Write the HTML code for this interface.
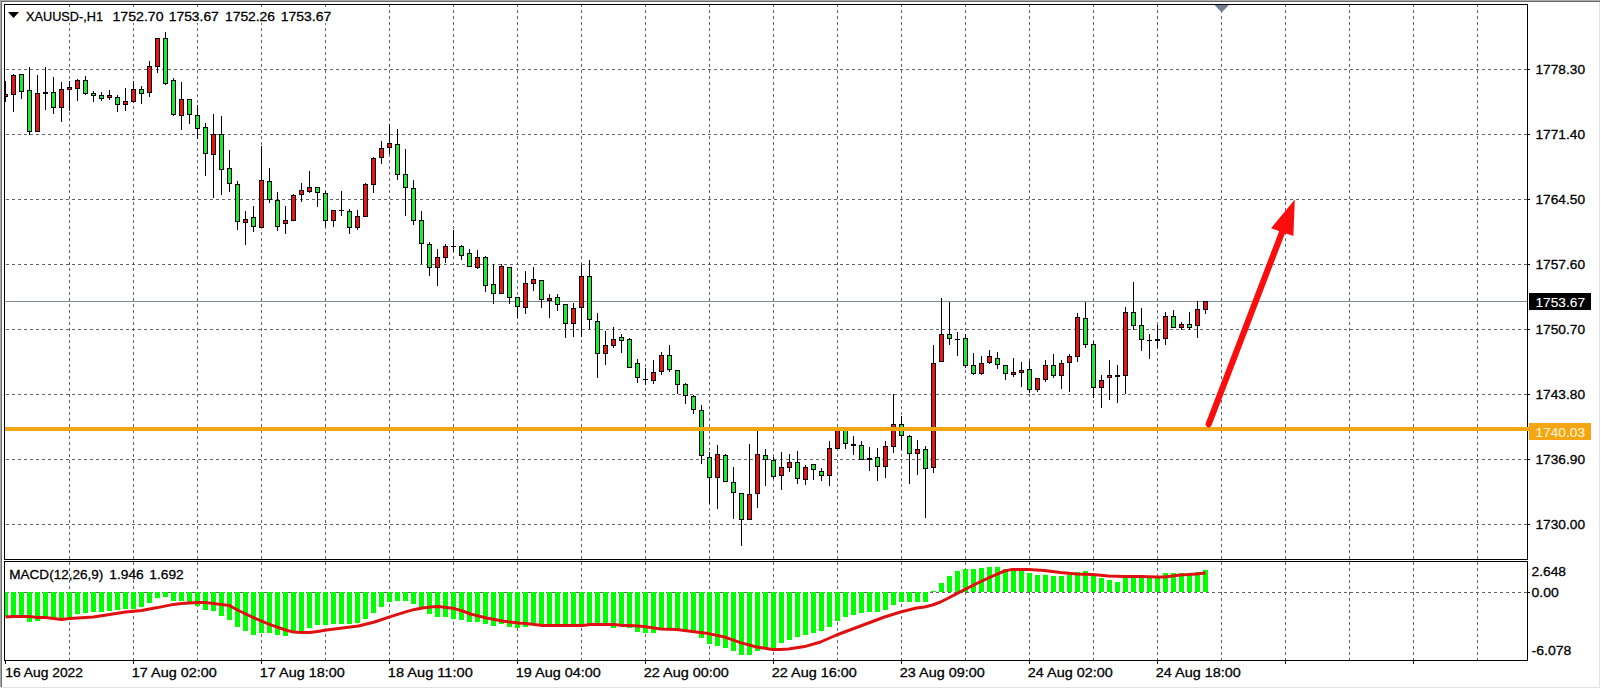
<!DOCTYPE html><html><head><meta charset="utf-8"><title>XAUUSD H1</title>
<style>html,body{margin:0;padding:0;background:#fff;overflow:hidden}svg{display:block}text{font-family:"Liberation Sans","DejaVu Sans",sans-serif;font-size:13.6px;fill:#000;stroke:#000;stroke-width:0.3px}</style></head><body>
<svg width="1601" height="689" viewBox="0 0 1601 689">
<rect x="0" y="0" width="1601" height="689" fill="#fff"/>
<g shape-rendering="crispEdges">
<rect x="0" y="0" width="1600" height="1" fill="#ababab"/><rect x="0" y="1" width="1600" height="1" fill="#6c6c6c"/>
<rect x="0" y="0" width="1" height="687" fill="#a8a8a8"/><rect x="1" y="1" width="1" height="686" fill="#6c6c6c"/>
<rect x="0" y="687" width="1600" height="1" fill="#e3e3e3"/><rect x="1599" y="2" width="1" height="686" fill="#e3e3e3"/>
<line x1="69.5" y1="4" x2="69.5" y2="559" stroke="#646464" stroke-width="1" stroke-dasharray="3 3"/>
<line x1="69.5" y1="562" x2="69.5" y2="660" stroke="#646464" stroke-width="1" stroke-dasharray="3 3"/>
<line x1="133.5" y1="4" x2="133.5" y2="559" stroke="#646464" stroke-width="1" stroke-dasharray="3 3"/>
<line x1="133.5" y1="562" x2="133.5" y2="660" stroke="#646464" stroke-width="1" stroke-dasharray="3 3"/>
<line x1="197.5" y1="4" x2="197.5" y2="559" stroke="#646464" stroke-width="1" stroke-dasharray="3 3"/>
<line x1="197.5" y1="562" x2="197.5" y2="660" stroke="#646464" stroke-width="1" stroke-dasharray="3 3"/>
<line x1="261.5" y1="4" x2="261.5" y2="559" stroke="#646464" stroke-width="1" stroke-dasharray="3 3"/>
<line x1="261.5" y1="562" x2="261.5" y2="660" stroke="#646464" stroke-width="1" stroke-dasharray="3 3"/>
<line x1="325.5" y1="4" x2="325.5" y2="559" stroke="#646464" stroke-width="1" stroke-dasharray="3 3"/>
<line x1="325.5" y1="562" x2="325.5" y2="660" stroke="#646464" stroke-width="1" stroke-dasharray="3 3"/>
<line x1="389.5" y1="4" x2="389.5" y2="559" stroke="#646464" stroke-width="1" stroke-dasharray="3 3"/>
<line x1="389.5" y1="562" x2="389.5" y2="660" stroke="#646464" stroke-width="1" stroke-dasharray="3 3"/>
<line x1="453.5" y1="4" x2="453.5" y2="559" stroke="#646464" stroke-width="1" stroke-dasharray="3 3"/>
<line x1="453.5" y1="562" x2="453.5" y2="660" stroke="#646464" stroke-width="1" stroke-dasharray="3 3"/>
<line x1="517.5" y1="4" x2="517.5" y2="559" stroke="#646464" stroke-width="1" stroke-dasharray="3 3"/>
<line x1="517.5" y1="562" x2="517.5" y2="660" stroke="#646464" stroke-width="1" stroke-dasharray="3 3"/>
<line x1="581.5" y1="4" x2="581.5" y2="559" stroke="#646464" stroke-width="1" stroke-dasharray="3 3"/>
<line x1="581.5" y1="562" x2="581.5" y2="660" stroke="#646464" stroke-width="1" stroke-dasharray="3 3"/>
<line x1="645.5" y1="4" x2="645.5" y2="559" stroke="#646464" stroke-width="1" stroke-dasharray="3 3"/>
<line x1="645.5" y1="562" x2="645.5" y2="660" stroke="#646464" stroke-width="1" stroke-dasharray="3 3"/>
<line x1="709.5" y1="4" x2="709.5" y2="559" stroke="#646464" stroke-width="1" stroke-dasharray="3 3"/>
<line x1="709.5" y1="562" x2="709.5" y2="660" stroke="#646464" stroke-width="1" stroke-dasharray="3 3"/>
<line x1="773.5" y1="4" x2="773.5" y2="559" stroke="#646464" stroke-width="1" stroke-dasharray="3 3"/>
<line x1="773.5" y1="562" x2="773.5" y2="660" stroke="#646464" stroke-width="1" stroke-dasharray="3 3"/>
<line x1="837.5" y1="4" x2="837.5" y2="559" stroke="#646464" stroke-width="1" stroke-dasharray="3 3"/>
<line x1="837.5" y1="562" x2="837.5" y2="660" stroke="#646464" stroke-width="1" stroke-dasharray="3 3"/>
<line x1="901.5" y1="4" x2="901.5" y2="559" stroke="#646464" stroke-width="1" stroke-dasharray="3 3"/>
<line x1="901.5" y1="562" x2="901.5" y2="660" stroke="#646464" stroke-width="1" stroke-dasharray="3 3"/>
<line x1="965.5" y1="4" x2="965.5" y2="559" stroke="#646464" stroke-width="1" stroke-dasharray="3 3"/>
<line x1="965.5" y1="562" x2="965.5" y2="660" stroke="#646464" stroke-width="1" stroke-dasharray="3 3"/>
<line x1="1029.5" y1="4" x2="1029.5" y2="559" stroke="#646464" stroke-width="1" stroke-dasharray="3 3"/>
<line x1="1029.5" y1="562" x2="1029.5" y2="660" stroke="#646464" stroke-width="1" stroke-dasharray="3 3"/>
<line x1="1093.5" y1="4" x2="1093.5" y2="559" stroke="#646464" stroke-width="1" stroke-dasharray="3 3"/>
<line x1="1093.5" y1="562" x2="1093.5" y2="660" stroke="#646464" stroke-width="1" stroke-dasharray="3 3"/>
<line x1="1157.5" y1="4" x2="1157.5" y2="559" stroke="#646464" stroke-width="1" stroke-dasharray="3 3"/>
<line x1="1157.5" y1="562" x2="1157.5" y2="660" stroke="#646464" stroke-width="1" stroke-dasharray="3 3"/>
<line x1="1221.5" y1="4" x2="1221.5" y2="559" stroke="#646464" stroke-width="1" stroke-dasharray="3 3"/>
<line x1="1221.5" y1="562" x2="1221.5" y2="660" stroke="#646464" stroke-width="1" stroke-dasharray="3 3"/>
<line x1="1285.5" y1="4" x2="1285.5" y2="559" stroke="#646464" stroke-width="1" stroke-dasharray="3 3"/>
<line x1="1285.5" y1="562" x2="1285.5" y2="660" stroke="#646464" stroke-width="1" stroke-dasharray="3 3"/>
<line x1="1349.5" y1="4" x2="1349.5" y2="559" stroke="#646464" stroke-width="1" stroke-dasharray="3 3"/>
<line x1="1349.5" y1="562" x2="1349.5" y2="660" stroke="#646464" stroke-width="1" stroke-dasharray="3 3"/>
<line x1="1413.5" y1="4" x2="1413.5" y2="559" stroke="#646464" stroke-width="1" stroke-dasharray="3 3"/>
<line x1="1413.5" y1="562" x2="1413.5" y2="660" stroke="#646464" stroke-width="1" stroke-dasharray="3 3"/>
<line x1="1477.5" y1="4" x2="1477.5" y2="559" stroke="#646464" stroke-width="1" stroke-dasharray="3 3"/>
<line x1="1477.5" y1="562" x2="1477.5" y2="660" stroke="#646464" stroke-width="1" stroke-dasharray="3 3"/>
<line x1="6" y1="69.5" x2="1527" y2="69.5" stroke="#646464" stroke-width="1" stroke-dasharray="3 3"/>
<line x1="6" y1="134.5" x2="1527" y2="134.5" stroke="#646464" stroke-width="1" stroke-dasharray="3 3"/>
<line x1="6" y1="199.5" x2="1527" y2="199.5" stroke="#646464" stroke-width="1" stroke-dasharray="3 3"/>
<line x1="6" y1="264.5" x2="1527" y2="264.5" stroke="#646464" stroke-width="1" stroke-dasharray="3 3"/>
<line x1="6" y1="329.5" x2="1527" y2="329.5" stroke="#646464" stroke-width="1" stroke-dasharray="3 3"/>
<line x1="6" y1="394.5" x2="1527" y2="394.5" stroke="#646464" stroke-width="1" stroke-dasharray="3 3"/>
<line x1="6" y1="459.5" x2="1527" y2="459.5" stroke="#646464" stroke-width="1" stroke-dasharray="3 3"/>
<line x1="6" y1="524.5" x2="1527" y2="524.5" stroke="#646464" stroke-width="1" stroke-dasharray="3 3"/>
<line x1="6" y1="592.5" x2="1527" y2="592.5" stroke="#646464" stroke-width="1" stroke-dasharray="3 3"/>
<rect x="5" y="301" width="1522" height="1" fill="#808a94"/>
</g>
<g shape-rendering="crispEdges" fill="#00ff00">
<rect x="5" y="592" width="3" height="24"/>
<rect x="11" y="592" width="5" height="24"/>
<rect x="19" y="592" width="5" height="25"/>
<rect x="27" y="592" width="5" height="30"/>
<rect x="35" y="592" width="5" height="29"/>
<rect x="43" y="592" width="5" height="27"/>
<rect x="51" y="592" width="5" height="26"/>
<rect x="59" y="592" width="5" height="28"/>
<rect x="67" y="592" width="5" height="25"/>
<rect x="75" y="592" width="5" height="22"/>
<rect x="83" y="592" width="5" height="21"/>
<rect x="91" y="592" width="5" height="20"/>
<rect x="99" y="592" width="5" height="20"/>
<rect x="107" y="592" width="5" height="19"/>
<rect x="115" y="592" width="5" height="18"/>
<rect x="123" y="592" width="5" height="17"/>
<rect x="131" y="592" width="5" height="17"/>
<rect x="139" y="592" width="5" height="15"/>
<rect x="147" y="592" width="5" height="11"/>
<rect x="155" y="592" width="5" height="6"/>
<rect x="163" y="592" width="5" height="5"/>
<rect x="171" y="592" width="5" height="9"/>
<rect x="179" y="592" width="5" height="9"/>
<rect x="187" y="592" width="5" height="10"/>
<rect x="195" y="592" width="5" height="14"/>
<rect x="203" y="592" width="5" height="18"/>
<rect x="211" y="592" width="5" height="19"/>
<rect x="219" y="592" width="5" height="24"/>
<rect x="227" y="592" width="5" height="28"/>
<rect x="235" y="592" width="5" height="35"/>
<rect x="243" y="592" width="5" height="39"/>
<rect x="251" y="592" width="5" height="43"/>
<rect x="259" y="592" width="5" height="41"/>
<rect x="267" y="592" width="5" height="41"/>
<rect x="275" y="592" width="5" height="43"/>
<rect x="283" y="592" width="5" height="44"/>
<rect x="291" y="592" width="5" height="40"/>
<rect x="299" y="592" width="5" height="41"/>
<rect x="307" y="592" width="5" height="36"/>
<rect x="315" y="592" width="5" height="33"/>
<rect x="323" y="592" width="5" height="33"/>
<rect x="331" y="592" width="5" height="32"/>
<rect x="339" y="592" width="5" height="32"/>
<rect x="347" y="592" width="5" height="32"/>
<rect x="355" y="592" width="5" height="31"/>
<rect x="363" y="592" width="5" height="27"/>
<rect x="371" y="592" width="5" height="21"/>
<rect x="379" y="592" width="5" height="15"/>
<rect x="387" y="592" width="5" height="10"/>
<rect x="395" y="592" width="5" height="9"/>
<rect x="403" y="592" width="5" height="9"/>
<rect x="411" y="592" width="5" height="12"/>
<rect x="419" y="592" width="5" height="15"/>
<rect x="427" y="592" width="5" height="22"/>
<rect x="435" y="592" width="5" height="25"/>
<rect x="443" y="592" width="5" height="25"/>
<rect x="451" y="592" width="5" height="27"/>
<rect x="459" y="592" width="5" height="28"/>
<rect x="467" y="592" width="5" height="30"/>
<rect x="475" y="592" width="5" height="30"/>
<rect x="483" y="592" width="5" height="32"/>
<rect x="491" y="592" width="5" height="34"/>
<rect x="499" y="592" width="5" height="32"/>
<rect x="507" y="592" width="5" height="35"/>
<rect x="515" y="592" width="5" height="36"/>
<rect x="523" y="592" width="5" height="35"/>
<rect x="531" y="592" width="5" height="33"/>
<rect x="539" y="592" width="5" height="34"/>
<rect x="547" y="592" width="5" height="34"/>
<rect x="555" y="592" width="5" height="34"/>
<rect x="563" y="592" width="5" height="34"/>
<rect x="571" y="592" width="5" height="34"/>
<rect x="579" y="592" width="5" height="34"/>
<rect x="587" y="592" width="5" height="34"/>
<rect x="595" y="592" width="5" height="34"/>
<rect x="603" y="592" width="5" height="34"/>
<rect x="611" y="592" width="5" height="36"/>
<rect x="619" y="592" width="5" height="34"/>
<rect x="627" y="592" width="5" height="36"/>
<rect x="635" y="592" width="5" height="40"/>
<rect x="643" y="592" width="5" height="41"/>
<rect x="651" y="592" width="5" height="41"/>
<rect x="659" y="592" width="5" height="38"/>
<rect x="667" y="592" width="5" height="37"/>
<rect x="675" y="592" width="5" height="38"/>
<rect x="683" y="592" width="5" height="39"/>
<rect x="691" y="592" width="5" height="41"/>
<rect x="699" y="592" width="5" height="46"/>
<rect x="707" y="592" width="5" height="52"/>
<rect x="715" y="592" width="5" height="54"/>
<rect x="723" y="592" width="5" height="56"/>
<rect x="731" y="592" width="5" height="59"/>
<rect x="739" y="592" width="5" height="63"/>
<rect x="747" y="592" width="5" height="63"/>
<rect x="755" y="592" width="5" height="59"/>
<rect x="763" y="592" width="5" height="57"/>
<rect x="771" y="592" width="5" height="56"/>
<rect x="779" y="592" width="5" height="51"/>
<rect x="787" y="592" width="5" height="48"/>
<rect x="795" y="592" width="5" height="45"/>
<rect x="803" y="592" width="5" height="43"/>
<rect x="811" y="592" width="5" height="41"/>
<rect x="819" y="592" width="5" height="39"/>
<rect x="827" y="592" width="5" height="35"/>
<rect x="835" y="592" width="5" height="29"/>
<rect x="843" y="592" width="5" height="25"/>
<rect x="851" y="592" width="5" height="23"/>
<rect x="859" y="592" width="5" height="21"/>
<rect x="867" y="592" width="5" height="20"/>
<rect x="875" y="592" width="5" height="20"/>
<rect x="883" y="592" width="5" height="18"/>
<rect x="891" y="592" width="5" height="13"/>
<rect x="899" y="592" width="5" height="10"/>
<rect x="907" y="592" width="5" height="10"/>
<rect x="915" y="592" width="5" height="10"/>
<rect x="923" y="592" width="5" height="10"/>
<rect x="931" y="591" width="5" height="1"/>
<rect x="939" y="583" width="5" height="9"/>
<rect x="947" y="576" width="5" height="16"/>
<rect x="955" y="571" width="5" height="21"/>
<rect x="963" y="569" width="5" height="23"/>
<rect x="971" y="569" width="5" height="23"/>
<rect x="979" y="568" width="5" height="24"/>
<rect x="987" y="567" width="5" height="25"/>
<rect x="995" y="567" width="5" height="25"/>
<rect x="1003" y="569" width="5" height="23"/>
<rect x="1011" y="570" width="5" height="22"/>
<rect x="1019" y="570" width="5" height="22"/>
<rect x="1027" y="573" width="5" height="19"/>
<rect x="1035" y="575" width="5" height="17"/>
<rect x="1043" y="575" width="5" height="17"/>
<rect x="1051" y="576" width="5" height="16"/>
<rect x="1059" y="576" width="5" height="16"/>
<rect x="1067" y="575" width="5" height="17"/>
<rect x="1075" y="572" width="5" height="20"/>
<rect x="1083" y="571" width="5" height="21"/>
<rect x="1091" y="575" width="5" height="17"/>
<rect x="1099" y="578" width="5" height="14"/>
<rect x="1107" y="580" width="5" height="12"/>
<rect x="1115" y="582" width="5" height="10"/>
<rect x="1123" y="578" width="5" height="14"/>
<rect x="1131" y="577" width="5" height="15"/>
<rect x="1139" y="577" width="5" height="15"/>
<rect x="1147" y="578" width="5" height="14"/>
<rect x="1155" y="576" width="5" height="16"/>
<rect x="1163" y="573" width="5" height="19"/>
<rect x="1171" y="573" width="5" height="19"/>
<rect x="1179" y="573" width="5" height="19"/>
<rect x="1187" y="573" width="5" height="19"/>
<rect x="1195" y="572" width="5" height="20"/>
<rect x="1203" y="570" width="5" height="22"/>
</g>
<polyline points="5.5,617 13.5,616.4 29.5,616.4 37.5,617.4 45.5,617.6 53.5,618.6 61.5,619.6 69.5,618.6 77.5,618 93.5,617 109.5,614.4 125.5,612 141.5,610.4 157.5,607.6 173.5,604.4 181.5,603.4 197.5,602.6 205.5,602.6 213.5,603.4 229.5,605.6 237.5,610 253.5,617.6 269.5,624.4 285.5,630 293.5,632 301.5,632.6 309.5,632.5 317.5,631.4 326.5,630 342.5,628 358.5,626 374.5,622 390.5,616.6 406.5,611.6 414.5,609.4 422.5,608 430.5,607 438.5,606.4 446.5,607.4 454.5,608.6 462.5,611 470.5,614 486.5,618 502.5,621 518.5,623 526.5,623.4 534.5,624.6 542.5,625.6 582.5,625.6 590.5,624.6 614.5,624.6 622.5,625.6 630.5,625.6 644.5,626.6 660.5,629 676.5,629.4 692.5,631.6 708.5,633.6 724.5,637 740.5,642.6 756.5,647 772.5,649.4 780.5,649.4 788.5,649 804.5,646.6 820.5,642 836.5,635 852.5,629 868.5,623 884.5,617 900.5,612 916.5,608 924.5,607 932.5,605 940.5,602 948.5,598 964.5,589.6 980.5,581.6 996.5,574.4 1004.5,571 1012.5,569.4 1028.5,569.4 1044.5,570.4 1060.5,572.4 1076.5,574 1092.5,574.6 1108.5,576 1124.5,576.4 1140.5,576.4 1156.5,577 1164.5,577 1172.5,576 1180.5,575 1188.5,574.6 1196.5,574 1205.5,573" fill="none" stroke="#e01010" stroke-width="3" stroke-linejoin="round" stroke-linecap="butt"/>
<g shape-rendering="crispEdges">
<rect x="5" y="81" width="1" height="21" fill="#000"/>
<rect x="5" y="94" width="3" height="3" fill="#000"/>
<rect x="5" y="95" width="2" height="1" fill="#ea1414"/>
<rect x="13" y="74" width="1" height="38" fill="#000"/>
<rect x="11" y="75" width="5" height="20" fill="#000"/>
<rect x="12" y="76" width="3" height="18" fill="#ea1414"/>
<rect x="21" y="74" width="1" height="25" fill="#000"/>
<rect x="19" y="74" width="5" height="18" fill="#000"/>
<rect x="20" y="75" width="3" height="16" fill="#1eea32"/>
<rect x="29" y="67" width="1" height="68" fill="#000"/>
<rect x="27" y="90" width="5" height="42" fill="#000"/>
<rect x="28" y="91" width="3" height="40" fill="#1eea32"/>
<rect x="37" y="75" width="1" height="57" fill="#000"/>
<rect x="35" y="93" width="5" height="39" fill="#000"/>
<rect x="36" y="94" width="3" height="37" fill="#ea1414"/>
<rect x="45" y="67" width="1" height="43" fill="#000"/>
<rect x="43" y="92" width="5" height="2" fill="#000"/>
<rect x="53" y="77" width="1" height="37" fill="#000"/>
<rect x="51" y="92" width="5" height="16" fill="#000"/>
<rect x="52" y="93" width="3" height="14" fill="#1eea32"/>
<rect x="61" y="82" width="1" height="40" fill="#000"/>
<rect x="59" y="89" width="5" height="19" fill="#000"/>
<rect x="60" y="90" width="3" height="17" fill="#ea1414"/>
<rect x="69" y="81" width="1" height="30" fill="#000"/>
<rect x="67" y="87" width="5" height="3" fill="#000"/>
<rect x="68" y="88" width="3" height="1" fill="#ea1414"/>
<rect x="77" y="79" width="1" height="22" fill="#000"/>
<rect x="75" y="80" width="5" height="9" fill="#000"/>
<rect x="76" y="81" width="3" height="7" fill="#ea1414"/>
<rect x="85" y="76" width="1" height="19" fill="#000"/>
<rect x="83" y="80" width="5" height="14" fill="#000"/>
<rect x="84" y="81" width="3" height="12" fill="#1eea32"/>
<rect x="93" y="91" width="1" height="11" fill="#000"/>
<rect x="91" y="93" width="5" height="3" fill="#000"/>
<rect x="92" y="94" width="3" height="1" fill="#1eea32"/>
<rect x="101" y="92" width="1" height="9" fill="#000"/>
<rect x="99" y="95" width="5" height="4" fill="#000"/>
<rect x="100" y="96" width="3" height="2" fill="#1eea32"/>
<rect x="109" y="90" width="1" height="10" fill="#000"/>
<rect x="107" y="95" width="5" height="3" fill="#000"/>
<rect x="108" y="96" width="3" height="1" fill="#ea1414"/>
<rect x="117" y="95" width="1" height="17" fill="#000"/>
<rect x="115" y="97" width="5" height="8" fill="#000"/>
<rect x="116" y="98" width="3" height="6" fill="#1eea32"/>
<rect x="125" y="88" width="1" height="23" fill="#000"/>
<rect x="123" y="101" width="5" height="4" fill="#000"/>
<rect x="124" y="102" width="3" height="2" fill="#ea1414"/>
<rect x="133" y="81" width="1" height="22" fill="#000"/>
<rect x="131" y="89" width="5" height="13" fill="#000"/>
<rect x="132" y="90" width="3" height="11" fill="#ea1414"/>
<rect x="141" y="86" width="1" height="18" fill="#000"/>
<rect x="139" y="89" width="5" height="5" fill="#000"/>
<rect x="140" y="90" width="3" height="3" fill="#1eea32"/>
<rect x="149" y="61" width="1" height="36" fill="#000"/>
<rect x="147" y="66" width="5" height="27" fill="#000"/>
<rect x="148" y="67" width="3" height="25" fill="#ea1414"/>
<rect x="157" y="38" width="1" height="35" fill="#000"/>
<rect x="155" y="38" width="5" height="29" fill="#000"/>
<rect x="156" y="39" width="3" height="27" fill="#ea1414"/>
<rect x="165" y="32" width="1" height="53" fill="#000"/>
<rect x="163" y="38" width="5" height="46" fill="#000"/>
<rect x="164" y="39" width="3" height="44" fill="#1eea32"/>
<rect x="173" y="78" width="1" height="38" fill="#000"/>
<rect x="171" y="80" width="5" height="35" fill="#000"/>
<rect x="172" y="81" width="3" height="33" fill="#1eea32"/>
<rect x="181" y="82" width="1" height="48" fill="#000"/>
<rect x="179" y="99" width="5" height="17" fill="#000"/>
<rect x="180" y="100" width="3" height="15" fill="#ea1414"/>
<rect x="189" y="99" width="1" height="25" fill="#000"/>
<rect x="187" y="99" width="5" height="16" fill="#000"/>
<rect x="188" y="100" width="3" height="14" fill="#1eea32"/>
<rect x="197" y="105" width="1" height="34" fill="#000"/>
<rect x="195" y="115" width="5" height="14" fill="#000"/>
<rect x="196" y="116" width="3" height="12" fill="#1eea32"/>
<rect x="205" y="123" width="1" height="53" fill="#000"/>
<rect x="203" y="127" width="5" height="27" fill="#000"/>
<rect x="204" y="128" width="3" height="25" fill="#1eea32"/>
<rect x="213" y="114" width="1" height="84" fill="#000"/>
<rect x="211" y="134" width="5" height="21" fill="#000"/>
<rect x="212" y="135" width="3" height="19" fill="#ea1414"/>
<rect x="221" y="116" width="1" height="79" fill="#000"/>
<rect x="219" y="134" width="5" height="36" fill="#000"/>
<rect x="220" y="135" width="3" height="34" fill="#1eea32"/>
<rect x="229" y="150" width="1" height="42" fill="#000"/>
<rect x="227" y="168" width="5" height="16" fill="#000"/>
<rect x="228" y="169" width="3" height="14" fill="#1eea32"/>
<rect x="237" y="181" width="1" height="49" fill="#000"/>
<rect x="235" y="184" width="5" height="38" fill="#000"/>
<rect x="236" y="185" width="3" height="36" fill="#1eea32"/>
<rect x="245" y="211" width="1" height="34" fill="#000"/>
<rect x="243" y="219" width="5" height="4" fill="#000"/>
<rect x="244" y="220" width="3" height="2" fill="#ea1414"/>
<rect x="253" y="206" width="1" height="26" fill="#000"/>
<rect x="251" y="217" width="5" height="10" fill="#000"/>
<rect x="252" y="218" width="3" height="8" fill="#1eea32"/>
<rect x="261" y="146" width="1" height="82" fill="#000"/>
<rect x="259" y="180" width="5" height="48" fill="#000"/>
<rect x="260" y="181" width="3" height="46" fill="#ea1414"/>
<rect x="269" y="168" width="1" height="35" fill="#000"/>
<rect x="267" y="181" width="5" height="19" fill="#000"/>
<rect x="268" y="182" width="3" height="17" fill="#1eea32"/>
<rect x="277" y="192" width="1" height="39" fill="#000"/>
<rect x="275" y="200" width="5" height="27" fill="#000"/>
<rect x="276" y="201" width="3" height="25" fill="#1eea32"/>
<rect x="285" y="206" width="1" height="28" fill="#000"/>
<rect x="283" y="220" width="5" height="4" fill="#000"/>
<rect x="284" y="221" width="3" height="2" fill="#ea1414"/>
<rect x="293" y="194" width="1" height="27" fill="#000"/>
<rect x="291" y="195" width="5" height="26" fill="#000"/>
<rect x="292" y="196" width="3" height="24" fill="#ea1414"/>
<rect x="301" y="183" width="1" height="19" fill="#000"/>
<rect x="299" y="190" width="5" height="5" fill="#000"/>
<rect x="300" y="191" width="3" height="3" fill="#ea1414"/>
<rect x="309" y="171" width="1" height="22" fill="#000"/>
<rect x="307" y="187" width="5" height="5" fill="#000"/>
<rect x="308" y="188" width="3" height="3" fill="#ea1414"/>
<rect x="317" y="187" width="1" height="20" fill="#000"/>
<rect x="315" y="187" width="5" height="6" fill="#000"/>
<rect x="316" y="188" width="3" height="4" fill="#1eea32"/>
<rect x="325" y="191" width="1" height="36" fill="#000"/>
<rect x="323" y="193" width="5" height="28" fill="#000"/>
<rect x="324" y="194" width="3" height="26" fill="#1eea32"/>
<rect x="333" y="210" width="1" height="17" fill="#000"/>
<rect x="331" y="210" width="5" height="11" fill="#000"/>
<rect x="332" y="211" width="3" height="9" fill="#ea1414"/>
<rect x="341" y="191" width="1" height="25" fill="#000"/>
<rect x="339" y="210" width="5" height="1" fill="#000"/>
<rect x="349" y="209" width="1" height="25" fill="#000"/>
<rect x="347" y="211" width="5" height="17" fill="#000"/>
<rect x="348" y="212" width="3" height="15" fill="#1eea32"/>
<rect x="357" y="210" width="1" height="20" fill="#000"/>
<rect x="355" y="216" width="5" height="12" fill="#000"/>
<rect x="356" y="217" width="3" height="10" fill="#ea1414"/>
<rect x="365" y="183" width="1" height="34" fill="#000"/>
<rect x="363" y="184" width="5" height="33" fill="#000"/>
<rect x="364" y="185" width="3" height="31" fill="#ea1414"/>
<rect x="373" y="157" width="1" height="36" fill="#000"/>
<rect x="371" y="158" width="5" height="27" fill="#000"/>
<rect x="372" y="159" width="3" height="25" fill="#ea1414"/>
<rect x="381" y="141" width="1" height="23" fill="#000"/>
<rect x="379" y="148" width="5" height="10" fill="#000"/>
<rect x="380" y="149" width="3" height="8" fill="#ea1414"/>
<rect x="389" y="124" width="1" height="30" fill="#000"/>
<rect x="387" y="143" width="5" height="5" fill="#000"/>
<rect x="388" y="144" width="3" height="3" fill="#ea1414"/>
<rect x="397" y="129" width="1" height="51" fill="#000"/>
<rect x="395" y="144" width="5" height="31" fill="#000"/>
<rect x="396" y="145" width="3" height="29" fill="#1eea32"/>
<rect x="405" y="149" width="1" height="67" fill="#000"/>
<rect x="403" y="174" width="5" height="14" fill="#000"/>
<rect x="404" y="175" width="3" height="12" fill="#1eea32"/>
<rect x="413" y="180" width="1" height="45" fill="#000"/>
<rect x="411" y="188" width="5" height="33" fill="#000"/>
<rect x="412" y="189" width="3" height="31" fill="#1eea32"/>
<rect x="421" y="211" width="1" height="53" fill="#000"/>
<rect x="419" y="220" width="5" height="24" fill="#000"/>
<rect x="420" y="221" width="3" height="22" fill="#1eea32"/>
<rect x="429" y="242" width="1" height="34" fill="#000"/>
<rect x="427" y="244" width="5" height="24" fill="#000"/>
<rect x="428" y="245" width="3" height="22" fill="#1eea32"/>
<rect x="437" y="249" width="1" height="37" fill="#000"/>
<rect x="435" y="257" width="5" height="11" fill="#000"/>
<rect x="436" y="258" width="3" height="9" fill="#ea1414"/>
<rect x="445" y="244" width="1" height="19" fill="#000"/>
<rect x="443" y="246" width="5" height="12" fill="#000"/>
<rect x="444" y="247" width="3" height="10" fill="#ea1414"/>
<rect x="453" y="230" width="1" height="22" fill="#000"/>
<rect x="451" y="246" width="5" height="1" fill="#000"/>
<rect x="461" y="245" width="1" height="15" fill="#000"/>
<rect x="459" y="246" width="5" height="10" fill="#000"/>
<rect x="460" y="247" width="3" height="8" fill="#1eea32"/>
<rect x="469" y="249" width="1" height="18" fill="#000"/>
<rect x="467" y="253" width="5" height="14" fill="#000"/>
<rect x="468" y="254" width="3" height="12" fill="#1eea32"/>
<rect x="477" y="250" width="1" height="19" fill="#000"/>
<rect x="475" y="257" width="5" height="11" fill="#000"/>
<rect x="476" y="258" width="3" height="9" fill="#ea1414"/>
<rect x="485" y="256" width="1" height="36" fill="#000"/>
<rect x="483" y="257" width="5" height="29" fill="#000"/>
<rect x="484" y="258" width="3" height="27" fill="#1eea32"/>
<rect x="493" y="264" width="1" height="40" fill="#000"/>
<rect x="491" y="284" width="5" height="10" fill="#000"/>
<rect x="492" y="285" width="3" height="8" fill="#1eea32"/>
<rect x="501" y="264" width="1" height="30" fill="#000"/>
<rect x="499" y="266" width="5" height="28" fill="#000"/>
<rect x="500" y="267" width="3" height="26" fill="#ea1414"/>
<rect x="509" y="267" width="1" height="37" fill="#000"/>
<rect x="507" y="267" width="5" height="31" fill="#000"/>
<rect x="508" y="268" width="3" height="29" fill="#1eea32"/>
<rect x="517" y="297" width="1" height="21" fill="#000"/>
<rect x="515" y="297" width="5" height="10" fill="#000"/>
<rect x="516" y="298" width="3" height="8" fill="#1eea32"/>
<rect x="525" y="271" width="1" height="43" fill="#000"/>
<rect x="523" y="283" width="5" height="25" fill="#000"/>
<rect x="524" y="284" width="3" height="23" fill="#ea1414"/>
<rect x="533" y="267" width="1" height="24" fill="#000"/>
<rect x="531" y="279" width="5" height="5" fill="#000"/>
<rect x="532" y="280" width="3" height="3" fill="#ea1414"/>
<rect x="541" y="280" width="1" height="28" fill="#000"/>
<rect x="539" y="280" width="5" height="20" fill="#000"/>
<rect x="540" y="281" width="3" height="18" fill="#1eea32"/>
<rect x="549" y="294" width="1" height="24" fill="#000"/>
<rect x="547" y="298" width="5" height="3" fill="#000"/>
<rect x="548" y="299" width="3" height="1" fill="#ea1414"/>
<rect x="557" y="294" width="1" height="17" fill="#000"/>
<rect x="555" y="297" width="5" height="8" fill="#000"/>
<rect x="556" y="298" width="3" height="6" fill="#1eea32"/>
<rect x="565" y="304" width="1" height="34" fill="#000"/>
<rect x="563" y="304" width="5" height="20" fill="#000"/>
<rect x="564" y="305" width="3" height="18" fill="#1eea32"/>
<rect x="573" y="303" width="1" height="34" fill="#000"/>
<rect x="571" y="308" width="5" height="16" fill="#000"/>
<rect x="572" y="309" width="3" height="14" fill="#ea1414"/>
<rect x="581" y="265" width="1" height="72" fill="#000"/>
<rect x="579" y="276" width="5" height="32" fill="#000"/>
<rect x="580" y="277" width="3" height="30" fill="#ea1414"/>
<rect x="589" y="260" width="1" height="69" fill="#000"/>
<rect x="587" y="276" width="5" height="44" fill="#000"/>
<rect x="588" y="277" width="3" height="42" fill="#1eea32"/>
<rect x="597" y="313" width="1" height="65" fill="#000"/>
<rect x="595" y="321" width="5" height="33" fill="#000"/>
<rect x="596" y="322" width="3" height="31" fill="#1eea32"/>
<rect x="605" y="331" width="1" height="34" fill="#000"/>
<rect x="603" y="345" width="5" height="9" fill="#000"/>
<rect x="604" y="346" width="3" height="7" fill="#ea1414"/>
<rect x="613" y="327" width="1" height="21" fill="#000"/>
<rect x="611" y="339" width="5" height="7" fill="#000"/>
<rect x="612" y="340" width="3" height="5" fill="#ea1414"/>
<rect x="621" y="334" width="1" height="19" fill="#000"/>
<rect x="619" y="337" width="5" height="4" fill="#000"/>
<rect x="620" y="338" width="3" height="2" fill="#1eea32"/>
<rect x="629" y="338" width="1" height="30" fill="#000"/>
<rect x="627" y="339" width="5" height="29" fill="#000"/>
<rect x="628" y="340" width="3" height="27" fill="#1eea32"/>
<rect x="637" y="359" width="1" height="24" fill="#000"/>
<rect x="635" y="363" width="5" height="15" fill="#000"/>
<rect x="636" y="364" width="3" height="13" fill="#1eea32"/>
<rect x="645" y="368" width="1" height="17" fill="#000"/>
<rect x="643" y="379" width="5" height="1" fill="#000"/>
<rect x="653" y="360" width="1" height="24" fill="#000"/>
<rect x="651" y="372" width="5" height="9" fill="#000"/>
<rect x="652" y="373" width="3" height="7" fill="#ea1414"/>
<rect x="661" y="352" width="1" height="23" fill="#000"/>
<rect x="659" y="355" width="5" height="17" fill="#000"/>
<rect x="660" y="356" width="3" height="15" fill="#ea1414"/>
<rect x="669" y="345" width="1" height="27" fill="#000"/>
<rect x="667" y="355" width="5" height="15" fill="#000"/>
<rect x="668" y="356" width="3" height="13" fill="#1eea32"/>
<rect x="677" y="370" width="1" height="24" fill="#000"/>
<rect x="675" y="370" width="5" height="15" fill="#000"/>
<rect x="676" y="371" width="3" height="13" fill="#1eea32"/>
<rect x="685" y="383" width="1" height="21" fill="#000"/>
<rect x="683" y="384" width="5" height="12" fill="#000"/>
<rect x="684" y="385" width="3" height="10" fill="#1eea32"/>
<rect x="693" y="395" width="1" height="19" fill="#000"/>
<rect x="691" y="396" width="5" height="14" fill="#000"/>
<rect x="692" y="397" width="3" height="12" fill="#1eea32"/>
<rect x="701" y="405" width="1" height="59" fill="#000"/>
<rect x="699" y="410" width="5" height="46" fill="#000"/>
<rect x="700" y="411" width="3" height="44" fill="#1eea32"/>
<rect x="709" y="452" width="1" height="52" fill="#000"/>
<rect x="707" y="457" width="5" height="21" fill="#000"/>
<rect x="708" y="458" width="3" height="19" fill="#1eea32"/>
<rect x="717" y="445" width="1" height="64" fill="#000"/>
<rect x="715" y="454" width="5" height="24" fill="#000"/>
<rect x="716" y="455" width="3" height="22" fill="#ea1414"/>
<rect x="725" y="454" width="1" height="28" fill="#000"/>
<rect x="723" y="455" width="5" height="27" fill="#000"/>
<rect x="724" y="456" width="3" height="25" fill="#1eea32"/>
<rect x="733" y="467" width="1" height="52" fill="#000"/>
<rect x="731" y="482" width="5" height="11" fill="#000"/>
<rect x="732" y="483" width="3" height="9" fill="#1eea32"/>
<rect x="741" y="493" width="1" height="53" fill="#000"/>
<rect x="739" y="493" width="5" height="27" fill="#000"/>
<rect x="740" y="494" width="3" height="25" fill="#1eea32"/>
<rect x="749" y="444" width="1" height="76" fill="#000"/>
<rect x="747" y="494" width="5" height="26" fill="#000"/>
<rect x="748" y="495" width="3" height="24" fill="#ea1414"/>
<rect x="757" y="431" width="1" height="77" fill="#000"/>
<rect x="755" y="454" width="5" height="40" fill="#000"/>
<rect x="756" y="455" width="3" height="38" fill="#ea1414"/>
<rect x="765" y="449" width="1" height="37" fill="#000"/>
<rect x="763" y="455" width="5" height="5" fill="#000"/>
<rect x="764" y="456" width="3" height="3" fill="#1eea32"/>
<rect x="773" y="457" width="1" height="22" fill="#000"/>
<rect x="771" y="460" width="5" height="17" fill="#000"/>
<rect x="772" y="461" width="3" height="15" fill="#1eea32"/>
<rect x="781" y="452" width="1" height="38" fill="#000"/>
<rect x="779" y="467" width="5" height="9" fill="#000"/>
<rect x="780" y="468" width="3" height="7" fill="#ea1414"/>
<rect x="789" y="454" width="1" height="18" fill="#000"/>
<rect x="787" y="462" width="5" height="6" fill="#000"/>
<rect x="788" y="463" width="3" height="4" fill="#ea1414"/>
<rect x="797" y="451" width="1" height="33" fill="#000"/>
<rect x="795" y="462" width="5" height="17" fill="#000"/>
<rect x="796" y="463" width="3" height="15" fill="#1eea32"/>
<rect x="805" y="465" width="1" height="20" fill="#000"/>
<rect x="803" y="467" width="5" height="13" fill="#000"/>
<rect x="804" y="468" width="3" height="11" fill="#ea1414"/>
<rect x="813" y="464" width="1" height="16" fill="#000"/>
<rect x="811" y="464" width="5" height="6" fill="#000"/>
<rect x="812" y="465" width="3" height="4" fill="#1eea32"/>
<rect x="821" y="468" width="1" height="13" fill="#000"/>
<rect x="819" y="471" width="5" height="5" fill="#000"/>
<rect x="820" y="472" width="3" height="3" fill="#1eea32"/>
<rect x="829" y="441" width="1" height="45" fill="#000"/>
<rect x="827" y="448" width="5" height="28" fill="#000"/>
<rect x="828" y="449" width="3" height="26" fill="#ea1414"/>
<rect x="837" y="427" width="1" height="22" fill="#000"/>
<rect x="835" y="427" width="5" height="22" fill="#000"/>
<rect x="836" y="428" width="3" height="20" fill="#ea1414"/>
<rect x="845" y="429" width="1" height="20" fill="#000"/>
<rect x="843" y="429" width="5" height="15" fill="#000"/>
<rect x="844" y="430" width="3" height="13" fill="#1eea32"/>
<rect x="853" y="436" width="1" height="19" fill="#000"/>
<rect x="851" y="444" width="5" height="2" fill="#000"/>
<rect x="861" y="441" width="1" height="19" fill="#000"/>
<rect x="859" y="445" width="5" height="15" fill="#000"/>
<rect x="860" y="446" width="3" height="13" fill="#1eea32"/>
<rect x="869" y="447" width="1" height="24" fill="#000"/>
<rect x="867" y="458" width="5" height="2" fill="#000"/>
<rect x="877" y="448" width="1" height="33" fill="#000"/>
<rect x="875" y="457" width="5" height="10" fill="#000"/>
<rect x="876" y="458" width="3" height="8" fill="#1eea32"/>
<rect x="885" y="441" width="1" height="37" fill="#000"/>
<rect x="883" y="446" width="5" height="21" fill="#000"/>
<rect x="884" y="447" width="3" height="19" fill="#ea1414"/>
<rect x="893" y="394" width="1" height="59" fill="#000"/>
<rect x="891" y="424" width="5" height="23" fill="#000"/>
<rect x="892" y="425" width="3" height="21" fill="#ea1414"/>
<rect x="901" y="416" width="1" height="34" fill="#000"/>
<rect x="899" y="424" width="5" height="12" fill="#000"/>
<rect x="900" y="425" width="3" height="10" fill="#1eea32"/>
<rect x="909" y="435" width="1" height="49" fill="#000"/>
<rect x="907" y="436" width="5" height="18" fill="#000"/>
<rect x="908" y="437" width="3" height="16" fill="#1eea32"/>
<rect x="917" y="440" width="1" height="35" fill="#000"/>
<rect x="915" y="449" width="5" height="5" fill="#000"/>
<rect x="916" y="450" width="3" height="3" fill="#ea1414"/>
<rect x="925" y="446" width="1" height="72" fill="#000"/>
<rect x="923" y="449" width="5" height="20" fill="#000"/>
<rect x="924" y="450" width="3" height="18" fill="#1eea32"/>
<rect x="933" y="345" width="1" height="128" fill="#000"/>
<rect x="931" y="363" width="5" height="105" fill="#000"/>
<rect x="932" y="364" width="3" height="103" fill="#ea1414"/>
<rect x="941" y="298" width="1" height="64" fill="#000"/>
<rect x="939" y="334" width="5" height="28" fill="#000"/>
<rect x="940" y="335" width="3" height="26" fill="#ea1414"/>
<rect x="949" y="302" width="1" height="43" fill="#000"/>
<rect x="947" y="334" width="5" height="5" fill="#000"/>
<rect x="948" y="335" width="3" height="3" fill="#1eea32"/>
<rect x="957" y="332" width="1" height="24" fill="#000"/>
<rect x="955" y="339" width="5" height="1" fill="#000"/>
<rect x="965" y="334" width="1" height="34" fill="#000"/>
<rect x="963" y="338" width="5" height="28" fill="#000"/>
<rect x="964" y="339" width="3" height="26" fill="#1eea32"/>
<rect x="973" y="353" width="1" height="22" fill="#000"/>
<rect x="971" y="365" width="5" height="9" fill="#000"/>
<rect x="972" y="366" width="3" height="7" fill="#1eea32"/>
<rect x="981" y="356" width="1" height="19" fill="#000"/>
<rect x="979" y="363" width="5" height="11" fill="#000"/>
<rect x="980" y="364" width="3" height="9" fill="#ea1414"/>
<rect x="989" y="350" width="1" height="14" fill="#000"/>
<rect x="987" y="356" width="5" height="7" fill="#000"/>
<rect x="988" y="357" width="3" height="5" fill="#ea1414"/>
<rect x="997" y="352" width="1" height="17" fill="#000"/>
<rect x="995" y="358" width="5" height="7" fill="#000"/>
<rect x="996" y="359" width="3" height="5" fill="#1eea32"/>
<rect x="1005" y="365" width="1" height="15" fill="#000"/>
<rect x="1003" y="365" width="5" height="9" fill="#000"/>
<rect x="1004" y="366" width="3" height="7" fill="#1eea32"/>
<rect x="1013" y="358" width="1" height="19" fill="#000"/>
<rect x="1011" y="372" width="5" height="3" fill="#000"/>
<rect x="1012" y="373" width="3" height="1" fill="#ea1414"/>
<rect x="1021" y="362" width="1" height="25" fill="#000"/>
<rect x="1019" y="370" width="5" height="3" fill="#000"/>
<rect x="1020" y="371" width="3" height="1" fill="#ea1414"/>
<rect x="1029" y="361" width="1" height="32" fill="#000"/>
<rect x="1027" y="369" width="5" height="21" fill="#000"/>
<rect x="1028" y="370" width="3" height="19" fill="#1eea32"/>
<rect x="1037" y="378" width="1" height="14" fill="#000"/>
<rect x="1035" y="378" width="5" height="12" fill="#000"/>
<rect x="1036" y="379" width="3" height="10" fill="#ea1414"/>
<rect x="1045" y="360" width="1" height="22" fill="#000"/>
<rect x="1043" y="365" width="5" height="15" fill="#000"/>
<rect x="1044" y="366" width="3" height="13" fill="#ea1414"/>
<rect x="1053" y="354" width="1" height="24" fill="#000"/>
<rect x="1051" y="365" width="5" height="11" fill="#000"/>
<rect x="1052" y="366" width="3" height="9" fill="#1eea32"/>
<rect x="1061" y="360" width="1" height="29" fill="#000"/>
<rect x="1059" y="363" width="5" height="13" fill="#000"/>
<rect x="1060" y="364" width="3" height="11" fill="#ea1414"/>
<rect x="1069" y="354" width="1" height="38" fill="#000"/>
<rect x="1067" y="356" width="5" height="7" fill="#000"/>
<rect x="1068" y="357" width="3" height="5" fill="#ea1414"/>
<rect x="1077" y="313" width="1" height="49" fill="#000"/>
<rect x="1075" y="317" width="5" height="40" fill="#000"/>
<rect x="1076" y="318" width="3" height="38" fill="#ea1414"/>
<rect x="1085" y="302" width="1" height="46" fill="#000"/>
<rect x="1083" y="318" width="5" height="27" fill="#000"/>
<rect x="1084" y="319" width="3" height="25" fill="#1eea32"/>
<rect x="1093" y="341" width="1" height="57" fill="#000"/>
<rect x="1091" y="344" width="5" height="44" fill="#000"/>
<rect x="1092" y="345" width="3" height="42" fill="#1eea32"/>
<rect x="1101" y="375" width="1" height="33" fill="#000"/>
<rect x="1099" y="380" width="5" height="8" fill="#000"/>
<rect x="1100" y="381" width="3" height="6" fill="#ea1414"/>
<rect x="1109" y="360" width="1" height="40" fill="#000"/>
<rect x="1107" y="375" width="5" height="3" fill="#000"/>
<rect x="1108" y="376" width="3" height="1" fill="#ea1414"/>
<rect x="1117" y="365" width="1" height="38" fill="#000"/>
<rect x="1115" y="375" width="5" height="2" fill="#000"/>
<rect x="1125" y="307" width="1" height="87" fill="#000"/>
<rect x="1123" y="312" width="5" height="64" fill="#000"/>
<rect x="1124" y="313" width="3" height="62" fill="#ea1414"/>
<rect x="1133" y="282" width="1" height="48" fill="#000"/>
<rect x="1131" y="312" width="5" height="14" fill="#000"/>
<rect x="1132" y="313" width="3" height="12" fill="#1eea32"/>
<rect x="1141" y="308" width="1" height="43" fill="#000"/>
<rect x="1139" y="325" width="5" height="15" fill="#000"/>
<rect x="1140" y="326" width="3" height="13" fill="#1eea32"/>
<rect x="1149" y="334" width="1" height="25" fill="#000"/>
<rect x="1147" y="340" width="5" height="1" fill="#000"/>
<rect x="1157" y="325" width="1" height="23" fill="#000"/>
<rect x="1155" y="339" width="5" height="2" fill="#000"/>
<rect x="1165" y="312" width="1" height="33" fill="#000"/>
<rect x="1163" y="316" width="5" height="23" fill="#000"/>
<rect x="1164" y="317" width="3" height="21" fill="#ea1414"/>
<rect x="1173" y="310" width="1" height="18" fill="#000"/>
<rect x="1171" y="316" width="5" height="12" fill="#000"/>
<rect x="1172" y="317" width="3" height="10" fill="#1eea32"/>
<rect x="1181" y="322" width="1" height="8" fill="#000"/>
<rect x="1179" y="324" width="5" height="4" fill="#000"/>
<rect x="1180" y="325" width="3" height="2" fill="#ea1414"/>
<rect x="1189" y="312" width="1" height="18" fill="#000"/>
<rect x="1187" y="324" width="5" height="4" fill="#000"/>
<rect x="1188" y="325" width="3" height="2" fill="#1eea32"/>
<rect x="1197" y="301" width="1" height="37" fill="#000"/>
<rect x="1195" y="309" width="5" height="17" fill="#000"/>
<rect x="1196" y="310" width="3" height="15" fill="#ea1414"/>
<rect x="1205" y="301" width="1" height="13" fill="#000"/>
<rect x="1203" y="301" width="5" height="9" fill="#000"/>
<rect x="1204" y="302" width="3" height="7" fill="#ea1414"/>
</g>
<rect x="5" y="427" width="1522" height="4" fill="#f4a512" shape-rendering="crispEdges"/>
<line x1="1208.7" y1="424.2" x2="1282.8" y2="230.4" stroke="#fb0d0d" stroke-width="6.2" stroke-linecap="round"/>
<polygon points="1294.8,199.5 1271,228.3 1293.4,236" fill="#fb0d0d"/>
<g shape-rendering="crispEdges" fill="#000">
<rect x="4" y="4" width="1524" height="1"/>
<rect x="4" y="4" width="1" height="657"/>
<rect x="1527" y="4" width="1" height="657"/>
<rect x="4" y="559" width="1524" height="1"/>
<rect x="4" y="561" width="1524" height="1"/>
<rect x="4" y="560" width="1524" height="1" fill="#fff"/>
<rect x="4" y="660" width="1524" height="1"/>
<rect x="1528" y="69" width="2" height="1"/>
<rect x="1528" y="134" width="2" height="1"/>
<rect x="1528" y="199" width="2" height="1"/>
<rect x="1528" y="264" width="2" height="1"/>
<rect x="1528" y="329" width="2" height="1"/>
<rect x="1528" y="394" width="2" height="1"/>
<rect x="1528" y="459" width="2" height="1"/>
<rect x="1528" y="524" width="2" height="1"/>
<rect x="1528" y="592" width="2" height="1"/>
<rect x="5" y="661" width="1" height="3"/>
<rect x="133" y="661" width="1" height="3"/>
<rect x="261" y="661" width="1" height="3"/>
<rect x="389" y="661" width="1" height="3"/>
<rect x="517" y="661" width="1" height="3"/>
<rect x="645" y="661" width="1" height="3"/>
<rect x="773" y="661" width="1" height="3"/>
<rect x="901" y="661" width="1" height="3"/>
<rect x="1029" y="661" width="1" height="3"/>
<rect x="1157" y="661" width="1" height="3"/>
<rect x="1285" y="661" width="1" height="3"/>
<rect x="1413" y="661" width="1" height="3"/>
</g>
<rect x="1527" y="427" width="2" height="4" fill="#f4a512" shape-rendering="crispEdges"/>
<polygon points="1214.5,5 1229,5 1221.7,12.6" fill="#708090"/>
<polygon points="8,12 19,12 13.5,18" fill="#000"/>
<rect x="24" y="8" width="310" height="15" fill="#fff"/>
<text x="26" y="20.6" textLength="77" lengthAdjust="spacingAndGlyphs">XAUUSD-,H1</text>
<text x="112.5" y="20.6" textLength="51" lengthAdjust="spacingAndGlyphs">1752.70</text>
<text x="168.8" y="20.6" textLength="50" lengthAdjust="spacingAndGlyphs">1753.67</text>
<text x="225" y="20.6" textLength="50" lengthAdjust="spacingAndGlyphs">1752.26</text>
<text x="280.8" y="20.6" textLength="50.5" lengthAdjust="spacingAndGlyphs">1753.67</text>
<text x="9.3" y="578.8" textLength="94" lengthAdjust="spacingAndGlyphs">MACD(12,26,9)</text>
<text x="109.3" y="578.8" textLength="34.5" lengthAdjust="spacingAndGlyphs">1.946</text>
<text x="149.3" y="578.8" textLength="34.5" lengthAdjust="spacingAndGlyphs">1.692</text>
<text x="1535.5" y="74.4" textLength="49.5" lengthAdjust="spacingAndGlyphs">1778.30</text>
<text x="1535.5" y="139.4" textLength="49.5" lengthAdjust="spacingAndGlyphs">1771.40</text>
<text x="1535.5" y="204.4" textLength="49.5" lengthAdjust="spacingAndGlyphs">1764.50</text>
<text x="1535.5" y="269.4" textLength="49.5" lengthAdjust="spacingAndGlyphs">1757.60</text>
<text x="1535.5" y="334.4" textLength="49.5" lengthAdjust="spacingAndGlyphs">1750.70</text>
<text x="1535.5" y="399.4" textLength="49.5" lengthAdjust="spacingAndGlyphs">1743.80</text>
<text x="1535.5" y="464.4" textLength="49.5" lengthAdjust="spacingAndGlyphs">1736.90</text>
<text x="1535.5" y="529.4" textLength="49.5" lengthAdjust="spacingAndGlyphs">1730.00</text>
<rect x="1529" y="293" width="62" height="17" fill="#000" shape-rendering="crispEdges"/>
<text x="1535.5" y="306.7" textLength="49.5" lengthAdjust="spacingAndGlyphs" style="fill:#fff;stroke:#fff;stroke-width:0.1px">1753.67</text>
<rect x="1529" y="423" width="62" height="17" fill="#f4a512" shape-rendering="crispEdges"/>
<text x="1535.5" y="436.5" textLength="49.5" lengthAdjust="spacingAndGlyphs" style="fill:#fff6d8;stroke:#fff6d8;stroke-width:0.1px">1740.03</text>
<text x="1531.5" y="576.3" textLength="34.5" lengthAdjust="spacingAndGlyphs">2.648</text>
<text x="1531.5" y="597.2" textLength="27.3" lengthAdjust="spacingAndGlyphs">0.00</text>
<text x="1531.6" y="655.2" textLength="39.8" lengthAdjust="spacingAndGlyphs">-6.078</text>
<text x="5.3" y="677.2" textLength="77.7" lengthAdjust="spacingAndGlyphs">16 Aug 2022</text>
<text x="131.8" y="677.2" textLength="85" lengthAdjust="spacingAndGlyphs">17 Aug 02:00</text>
<text x="259.8" y="677.2" textLength="85" lengthAdjust="spacingAndGlyphs">17 Aug 18:00</text>
<text x="387.8" y="677.2" textLength="85" lengthAdjust="spacingAndGlyphs">18 Aug 11:00</text>
<text x="515.8" y="677.2" textLength="85" lengthAdjust="spacingAndGlyphs">19 Aug 04:00</text>
<text x="643.8" y="677.2" textLength="85" lengthAdjust="spacingAndGlyphs">22 Aug 00:00</text>
<text x="771.8" y="677.2" textLength="85" lengthAdjust="spacingAndGlyphs">22 Aug 16:00</text>
<text x="899.8" y="677.2" textLength="85" lengthAdjust="spacingAndGlyphs">23 Aug 09:00</text>
<text x="1027.8" y="677.2" textLength="85" lengthAdjust="spacingAndGlyphs">24 Aug 02:00</text>
<text x="1155.8" y="677.2" textLength="85" lengthAdjust="spacingAndGlyphs">24 Aug 18:00</text>
</svg></body></html>
